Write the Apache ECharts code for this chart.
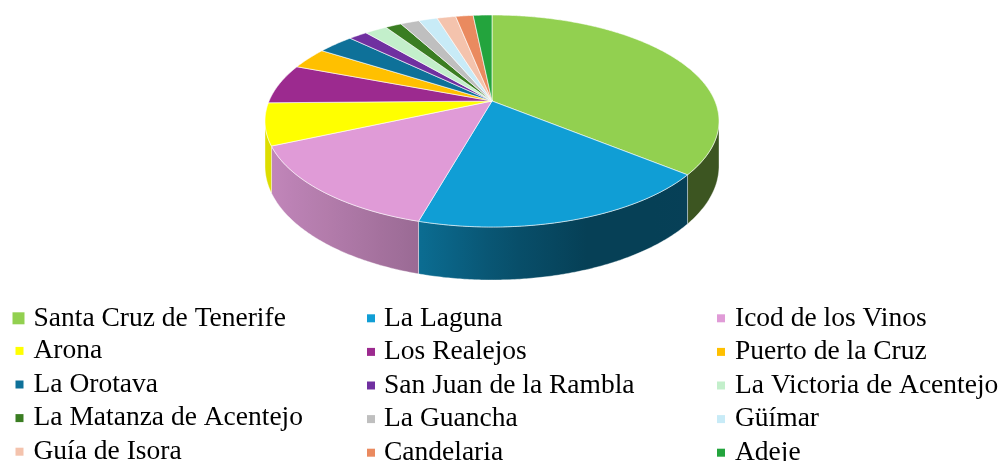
<!DOCTYPE html>
<html>
<head>
<meta charset="utf-8">
<script src="https://cdn.jsdelivr.net/npm/echarts@6/dist/echarts.min.js"></script>
<style>
html,body{margin:0;padding:0;background:#fff;}
#chart{width:1005px;height:461px;}
</style>
</head>
<body>
<div id="chart"></div>
<script>
// ---- data ----
const categories = [
  'Santa Cruz de Tenerife', 'La Laguna', 'Icod de los Vinos',
  'Arona', 'Los Realejos', 'Puerto de la Cruz',
  'La Orotava', 'San Juan de la Rambla', 'La Victoria de Acentejo',
  'La Matanza de Acentejo', 'La Guancha', 'Güímar',
  'Guía de Isora', 'Candelaria', 'Adeje'
];
const values = [36.0, 18.4, 14.0, 6.4, 6.1, 3.3, 3.1, 1.6, 1.9, 1.4, 1.6, 1.6, 1.6, 1.5, 1.6];
const colors = [
  '#92D050', '#109ED5', '#E09BD7',
  '#FFFF00', '#9C2A8F', '#FFC000',
  '#0E7199', '#7030A0', '#C3EFCB',
  '#3A7D22', '#BFBFBF', '#C8EBF7',
  '#F4C3AD', '#EA8A5F', '#23A43D'
];

// ---- 3D pie geometry (layout) ----
const CX = 492, CY = 121, RX = 227, RY = 106;
const C = -20 / 106;            // perspective shift of the pie centre
const S = Math.sqrt(1 - C * C);
const total = values.reduce((a, b) => a + b, 0);
const thetaR = Math.acos(C) * 180 / Math.PI;   // right extreme of visible wall
const thetaL = 360 - thetaR;                   // left extreme

function P(deg) {
  const t = deg * Math.PI / 180;
  const den = 1 - C * Math.cos(t);
  const u = S * Math.sin(t) / den;
  const v = (C - Math.cos(t)) / den;
  return [CX + RX * u, CY + RY * v, v];
}
function depth(v) { return 45 + 8 * Math.max(0, v); }
const shadeStops = [[265, 0.87], [417, 0.69], [500, 0.52], [590, 0.40], [720, 0.41]];
function shade(x) {
  if (x <= shadeStops[0][0]) return shadeStops[0][1];
  for (let i = 1; i < shadeStops.length; i++) {
    if (x <= shadeStops[i][0]) {
      const [x0, f0] = shadeStops[i - 1], [x1, f1] = shadeStops[i];
      return f0 + (f1 - f0) * (x - x0) / (x1 - x0);
    }
  }
  return shadeStops[shadeStops.length - 1][1];
}
function scaleColor(hex, f) {
  const n = parseInt(hex.slice(1), 16);
  const r = Math.round(((n >> 16) & 255) * f), g = Math.round(((n >> 8) & 255) * f), b = Math.round((n & 255) * f);
  return 'rgb(' + r + ',' + g + ',' + b + ')';
}

function makeRender(idx) {
  return function (params, api) {
    let before = 0;
    for (let i = 0; i < idx; i++) before += values[i];
    const val = api.value(0);
    const a = before / total * 360;
    const b = (before + val) / total * 360;
    const children = [];
    // side wall (front half only)
    const wa = Math.max(a, thetaR), wb = Math.min(b, thetaL);
    if (wb > wa) {
      const top = [], bot = [];
      const n = Math.max(2, Math.ceil((wb - wa) / 0.5));
      for (let k = 0; k <= n; k++) {
        const d = wa + (wb - wa) * k / n;
        const p = P(d);
        top.push([p[0], p[1]]);
        bot.push([p[0], p[1] + depth(p[2])]);
      }
      const pts = top.concat(bot.reverse());
      const xs = top.map(p => p[0]);
      const x0 = Math.min.apply(null, xs), x1 = Math.max.apply(null, xs);
      const stops = [];
      for (let k = 0; k <= 8; k++) {
        const x = x0 + (x1 - x0) * k / 8;
        stops.push({ offset: k / 8, color: scaleColor(colors[idx], shade(x)) });
      }
      children.push({
        type: 'polygon',
        shape: { points: pts },
        style: {
          fill: { type: 'linear', x: x0, y: 0, x2: Math.max(x1, x0 + 1), y2: 0, global: true, colorStops: stops },
          stroke: 'rgba(255,255,255,0.55)', lineWidth: 0.7
        }
      });
    }
    // top face
    const pts = [[CX, CY + RY * C]];
    const n = Math.max(2, Math.ceil((b - a) / 0.5));
    for (let k = 0; k <= n; k++) {
      const p = P(a + (b - a) * k / n);
      pts.push([p[0], p[1]]);
    }
    children.push({
      type: 'polygon',
      shape: { points: pts },
      style: { fill: colors[idx], stroke: 'rgba(255,255,255,0.75)', lineWidth: 0.8, lineJoin: 'round' }
    });
    return { type: 'group', children: children };
  };
}

const series = categories.map((name, i) => ({
  type: 'custom',
  name: name,
  coordinateSystem: 'none',
  silent: true,
  animation: false,
  itemStyle: { color: colors[i] },
  renderItem: makeRender(i),
  data: [[values[i]]]
}));

// ---- legend (3 columns) ----
const textStyle = { fontFamily: 'Liberation Serif', fontSize: 27.5, color: '#000', lineHeight: 27 };
function col(c, startRow) {
  return categories.filter((_, i) => i % 3 === c && Math.floor(i / 3) >= startRow);
}
const legendBase = { orient: 'vertical', padding: 0, itemGap: 5.6, selectedMode: false, icon: 'rect',
  itemWidth: 8, itemHeight: 8, height: 400, width: 320, itemStyle: { borderWidth: 0 } };
const legends = [
  Object.assign({}, legendBase, { data: [categories[0]], left: 12.5, top: 304.3, itemWidth: 12, itemHeight: 12,
    textStyle: Object.assign({ padding: [0, 0, 0, 4] }, textStyle) }),
  Object.assign({}, legendBase, { data: col(0, 1), left: 15.5, top: 336.9,
    textStyle: Object.assign({ padding: [0, 0, 0, 5] }, textStyle) }),
  Object.assign({}, legendBase, { data: col(1, 0), left: 367, top: 304.3,
    textStyle: Object.assign({ padding: [0, 0, 0, 4] }, textStyle) }),
  Object.assign({}, legendBase, { data: col(2, 0), left: 717, top: 304.3, width: 288,
    textStyle: Object.assign({ padding: [0, 0, 0, 5] }, textStyle) })
];

const chart = echarts.init(document.getElementById('chart'), null, { renderer: 'canvas' });
chart.setOption({
  backgroundColor: '#fff',
  animation: false,
  legend: legends,
  series: series
});
</script>
</body>
</html>
